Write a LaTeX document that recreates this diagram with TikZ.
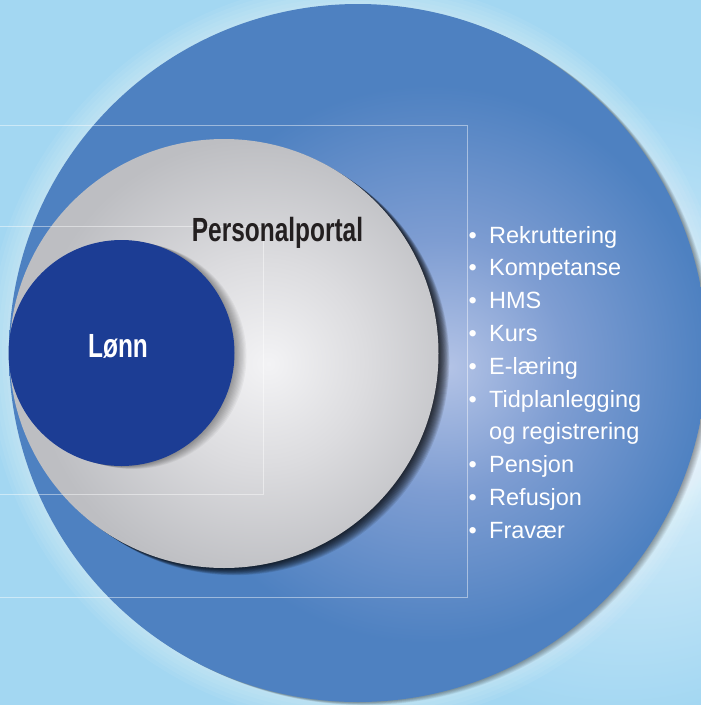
\documentclass[tikz,border=0pt]{standalone}
\usepackage{fontspec}
\setmainfont{Liberation Sans}
\newfontfamily\smalfont[FakeStretch=0.73]{Liberation Sans}

\definecolor{bakblaa}{HTML}{A3D7F2}
\definecolor{bakmid}{HTML}{C8E7F7}
\definecolor{baklys}{HTML}{EDF7FC}
\definecolor{ringmork}{HTML}{4E81C1}
\definecolor{ringmid}{HTML}{7E9DD2}
\definecolor{ringlys}{HTML}{B3C3E6}
\definecolor{graakant}{HTML}{BDBEC2}
\definecolor{graamid}{HTML}{DCDCDF}
\definecolor{graalys}{HTML}{F3F3F5}
\definecolor{loennblaa}{HTML}{1C3D94}
\definecolor{tekstsort}{HTML}{231F20}

\pgfdeclareradialshading{bakgrunn}{\pgfpoint{24bp}{-5bp}}{color(0bp)=(baklys); color(8bp)=(bakmid); color(22bp)=(bakblaa); color(100bp)=(bakblaa)}
\pgfdeclareradialshading{ytre}{\pgfpoint{6.5bp}{-1bp}}{color(0bp)=(ringlys); color(9bp)=(ringmid); color(20bp)=(ringmork); color(100bp)=(ringmork)}
\pgfdeclareradialshading{graa}{\pgfpoint{5.2bp}{-1.2bp}}{color(0bp)=(graalys); color(12bp)=(graamid); color(26bp)=(graakant); color(100bp)=(graakant)}

\begin{document}
\begin{tikzpicture}[x=1pt,y=-1pt]

\tikzset{ramme/.style={white,opacity=0.45,line width=0.6pt}, %tynne linjer
	liste/.style={white,font=\fontsize{23.5}{28}\selectfont,anchor=base west,inner sep=0pt},
	tittel/.style={font=\smalfont\bfseries\fontsize{33.5}{40}\selectfont,anchor=base,inner sep=0pt}}

\useasboundingbox (0,0) rectangle (701,705);
\clip (0,0) rectangle (701,705);

	%bakgrunn
	\shade[shading=bakgrunn] (0,0) rectangle (701,705);
	\foreach \w in {6,14,...,46}
		\draw[white,opacity=0.06,line width=\w pt] (358,353) circle (349pt);

	%----------stor sirkel------------
	\foreach \k in {1,...,8}
		\fill[black,opacity=0.05] (358+0.8*\k,353+0.4*\k) circle (349pt);
	\shade[shading=ytre] (358,353) circle (349pt);

	%----------personalportal------------
	\foreach \k in {1,...,12}
		\fill[black,opacity=0.1] (224+0.9*\k,353.5+0.6*\k) circle (214.5pt);
	\shade[shading=graa] (224,353.5) circle (214.5pt);

	%rammer
	\draw[ramme] (0,125) -| (467,597) -- (0,597);
	\draw[ramme] (0,226) -| (263,494) -- (0,494);

	%----------lønn------------
	\foreach \k in {1,...,10}
		\fill[black,opacity=0.04] (121.5+1.2*\k,353+0.3*\k) circle (113pt);
	\fill[loennblaa] (121.5,353) circle (113pt);

	\node[tittel,text=tekstsort] (portal) at (277.5,241) {Personalportal};
	\node[tittel,text=white] (loenn) at (118,357.5) {Lønn};

	%liste
	\foreach \txt/\bul [count=\i from 0] in {Rekruttering/1,Kompetanse/1,HMS/1,Kurs/1,E-læring/1,Tidplanlegging/1,og registrering/0,Pensjon/1,Refusjon/1,Fravær/1}{
		\node[liste] (item-\i) at (489,243+32.8*\i) {\txt};
		\ifnum\bul=1
			\node[liste] (dot-\i) at (468.5,243+32.8*\i) {•};
		\fi
	}

\end{tikzpicture}
\end{document}
